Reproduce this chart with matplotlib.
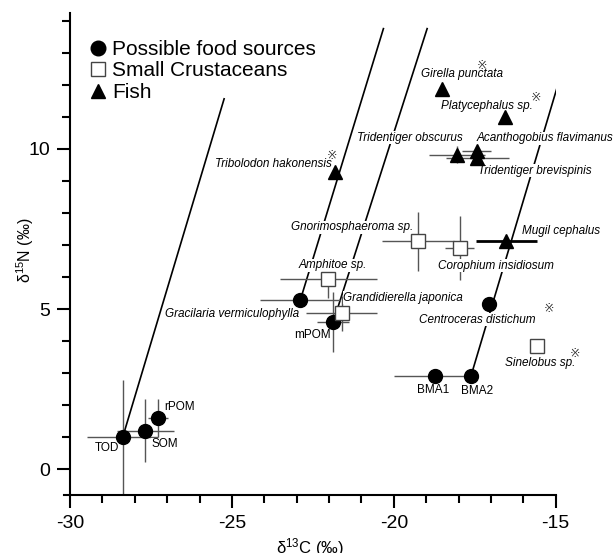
import matplotlib
matplotlib.use("Agg")
import matplotlib.pyplot as plt
from matplotlib.lines import Line2D
from matplotlib.ticker import MultipleLocator

plt.rcParams['font.family'] = ['Liberation Sans', 'DejaVu Sans', 'Noto Sans CJK JP']
plt.rcParams['mathtext.fontset'] = 'custom'
plt.rcParams['mathtext.rm'] = 'Liberation Sans'
plt.rcParams['mathtext.it'] = 'Liberation Sans:italic'

# possible food sources
food_names = ["TOD", "SOM", "rPOM", "Gracilaria vermiculophylla", "mPOM",
              "Centroceras distichum", "BMA1", "BMA2"]
food_x = [-28.37, -27.67, -27.28, -22.89, -21.87, -17.06, -18.72, -17.62]
food_y = [1.01, 1.21, 1.60, 5.27, 4.60, 5.17, 2.90, 2.90]
food_xerr = [1.10, 0.88, 0.30, 1.24, 0.50, 0.0, 1.26, 0.0]
food_yerr = [1.78, 0.98, 0.60, 0.0, 0.93, 0.0, 0.0, 0.0]

# small crustaceans
crust_names = ["Amphitoe sp.", "Grandidierella japonica", "Gnorimosphaeroma sp.",
               "Corophium insidiosum", "Sinelobus sp."]
crust_x = [-22.02, -21.61, -19.26, -17.97, -15.57]
crust_y = [5.95, 4.87, 7.11, 6.90, 3.84]
crust_xerr = [1.49, 1.10, 1.11, 0.44, 0.0]
crust_yerr = [0.60, 0.55, 0.93, 1.00, 0.0]

# fish
fish_names = ["Tribolodon hakonensis", "Girella punctata", "Platycephalus sp.",
              "Tridentiger obscurus", "Acanthogobius flavimanus",
              "Tridentiger brevispinis", "Mugil cephalus"]
fish_x = [-21.83, -18.50, -16.56, -18.05, -17.44, -17.42, -16.53]
fish_y = [9.28, 11.88, 11.00, 9.82, 9.93, 9.70, 7.13]
fish_xerr = [0.0, 0.0, 0.0, 0.86, 0.44, 0.97, 0.94]
fish_yerr = [0.0, 0.0, 0.0, 0.26, 0.15, 0.20, 0.0]

# single samples marked with an asterisk
star_x = [-21.90, -17.28, -15.61, -15.22, -14.40]
star_y = [9.78, 12.61, 11.60, 5.02, 3.61]

# trophic enrichment lines (start, end)
line_x0 = [-28.37, -22.89, -21.87, -17.62]
line_y0 = [1.01, 5.27, 4.60, 2.90]
line_x1 = [-25.24, -20.32, -18.97, -14.47]
line_y1 = [11.56, 13.75, 13.75, 13.56]

# label placement: name -> (x, y, ha, italic)
labels = {
    "TOD": (-28.85, 0.66, 'center', False),
    "SOM": (-27.07, 0.78, 'center', False),
    "rPOM": (-26.61, 1.94, 'center', False),
    "mPOM": (-22.50, 4.18, 'center', False),
    "BMA1": (-18.80, 2.47, 'center', False),
    "BMA2": (-17.42, 2.43, 'center', False),
    "Gracilaria vermiculophylla": (-22.92, 4.86, 'right', True),
    "Centroceras distichum": (-17.41, 4.67, 'center', True),
    "Amphitoe sp.": (-21.89, 6.37, 'center', True),
    "Grandidierella japonica": (-21.56, 5.36, 'left', True),
    "Gnorimosphaeroma sp.": (-19.39, 7.56, 'right', True),
    "Corophium insidiosum": (-16.83, 6.35, 'center', True),
    "Sinelobus sp.": (-15.48, 3.32, 'center', True),
    "Tribolodon hakonensis": (-21.91, 9.52, 'right', True),
    "Girella punctata": (-17.90, 12.33, 'center', True),
    "Platycephalus sp.": (-17.13, 11.33, 'center', True),
    "Tridentiger obscurus": (-19.51, 10.34, 'center', True),
    "Acanthogobius flavimanus": (-17.44, 10.33, 'left', True),
    "Tridentiger brevispinis": (-17.39, 9.31, 'left', True),
    "Mugil cephalus": (-16.05, 7.44, 'left', True),
}

fig = plt.figure(figsize=(6.16, 5.53), dpi=100)
ax = fig.add_axes([0.1031, 0.1049, 0.799, 0.8723])

for x0, y0, x1, y1 in zip(line_x0, line_y0, line_x1, line_y1):
    ax.plot([x0, x1], [y0, y1], color='black', lw=1.2, zorder=1)

ERR = '#555555'
ax.errorbar(food_x, food_y, xerr=food_xerr, yerr=food_yerr, fmt='none',
            ecolor=ERR, elinewidth=1, capsize=0, zorder=2)
ax.errorbar(crust_x, crust_y, xerr=crust_xerr, yerr=crust_yerr, fmt='none',
            ecolor=ERR, elinewidth=1, capsize=0, zorder=2)
ax.errorbar(fish_x[:-1], fish_y[:-1], xerr=fish_xerr[:-1], yerr=fish_yerr[:-1], fmt='none',
            ecolor=ERR, elinewidth=1, capsize=0, zorder=2)
# Mugil bar is drawn heavier
ax.errorbar(fish_x[-1:], fish_y[-1:], xerr=fish_xerr[-1:], fmt='none',
            ecolor='black', elinewidth=2, capsize=0, zorder=2)

for name, (lx, ly, ha, it) in labels.items():
    ax.text(lx, ly, name, ha=ha, va='center', fontsize=8.5,
            style='italic' if it else 'normal', zorder=3,
            bbox=dict(facecolor='white', edgecolor='none', pad=0.3))

for sx, sy in zip(star_x, star_y):
    ax.text(sx, sy, '\u203b', ha='center', va='center', fontsize=9, color='#333333',
            family=['DejaVu Sans', 'Noto Sans CJK JP'], zorder=3, clip_on=False)

ax.plot(food_x, food_y, 'o', ms=10, mfc='black', mec='black', zorder=4)
ax.plot(crust_x, crust_y, 's', ms=9.5, mfc='white', mec='#444444', mew=1, zorder=4)
ax.plot(fish_x, fish_y, '^', ms=10, mfc='black', mec='black', zorder=4)

ax.set_xlim(-30.2, -15)
ax.set_ylim(-0.8, 14.25)
ax.spines['left'].set_position(('data', -30))
ax.spines['top'].set_visible(False)
ax.spines['right'].set_visible(False)
ax.spines['left'].set_linewidth(1.5)
ax.spines['bottom'].set_linewidth(1.5)

ax.xaxis.set_minor_locator(MultipleLocator(1))
ax.yaxis.set_minor_locator(MultipleLocator(1))
ax.set_xticks([-30, -25, -20, -15])
ax.set_xticklabels(['-30', '-25', '-20', '-15'])
ax.set_yticks([0, 5, 10])
ax.set_yticklabels(['0', '5', '10'])
ax.tick_params(which='major', direction='out', length=9.5, width=1.5, labelsize=14, pad=5)
ax.tick_params(which='minor', direction='out', length=5.8, width=1.5)

ax.set_xlabel('\u03b4$^{13}$C (\u2030)', fontsize=12)
ax.set_ylabel('\u03b4$^{15}$N (\u2030)', fontsize=11.5)
ax.xaxis.set_label_coords(0.5, -0.085)
ax.yaxis.set_label_coords(-0.056, 0.508)

handles = [
    Line2D([], [], ls='none', marker='o', ms=10.5, mfc='black', mec='black'),
    Line2D([], [], ls='none', marker='s', ms=10, mfc='white', mec='#444444', mew=1),
    Line2D([], [], ls='none', marker='^', ms=10.5, mfc='black', mec='black'),
]
ax.legend(handles, ['Possible food sources', 'Small Crustaceans', 'Fish'],
          loc='upper left', bbox_to_anchor=(0.146, 0.928), bbox_transform=fig.transFigure,
          frameon=False, fontsize=15, handlelength=0.8, handletextpad=0.25,
          labelspacing=0.12, borderpad=0, borderaxespad=0)

fig.savefig('out.png', dpi=100)
